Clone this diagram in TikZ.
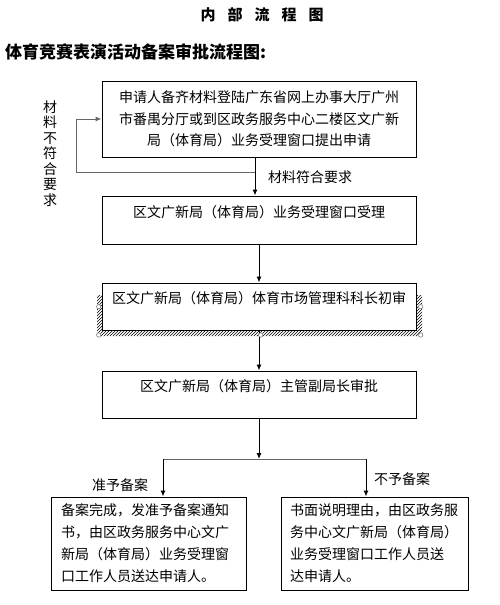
\documentclass[tikz,border=0pt]{standalone}
\usepackage{fontspec}
\setmainfont{Noto Sans CJK SC}
\usetikzlibrary{patterns,arrows.meta}
\tikzset{
  box/.style={draw, line width=1pt, fill=white, inner sep=0pt, minimum width=314pt, font=\fontsize{14}{21.5}\selectfont},
  toptext/.style={text height=12pt, text depth=18pt},
  flow/.style={line width=1pt, -{Latex[length=6pt,width=5pt]}},
  link/.style={line width=1pt, draw=gray!80!black},
  handle/.style={draw=gray, fill=white, line width=0.6pt},
  note/.style={font=\fontsize{14}{15.5}\selectfont, inner sep=0pt}
}
\begin{document}
\begin{tikzpicture}[x=1pt,y=-1pt]
\useasboundingbox (0,0) rectangle (499,605);

\node[font=\fontsize{15}{15}\selectfont\bfseries] (title) at (262,15) {内\hspace{12pt}部\hspace{12pt}流\hspace{12pt}程\hspace{12pt}图};
\node[font=\fontsize{17}{17}\selectfont\bfseries, anchor=west, inner sep=0pt] (heading) at (5,52) {体育竞赛表演活动备案审批流程图:};

\node[box, minimum height=76pt, align=center] (apply) at (259,119) {申请人备齐材料登陆广东省网上办事大厅广州\\市番禺分厅或到区政务服务中心二楼区文广新\\局（体育局）业务受理窗口提出申请};
\node[box, minimum height=48pt, toptext] (accept) at (259,220) {区文广新局（体育局）业务受理窗口受理};

\fill[pattern=north east lines] (97,295) rectangle (102,336) (416,295) rectangle (422,336) (97,330) rectangle (422,336);
\node[box, minimum height=47pt, toptext] (review) at (259,306.5) {区文广新局（体育局）体育市场管理科科长初审};
\node[box, minimum height=47pt, toptext] (approve) at (259,394.5) {区文广新局（体育局）主管副局长审批};

\node[box, minimum width=195pt, minimum height=93pt, text width=175pt, align=left, font=\fontsize{14}{22}\selectfont] (grant) at (148.5,543.5) {备案完成，发准予备案通知\\书，由区政务服务中心文广\\新局（体育局）业务受理窗\\口工作人员送达申请人。};
\node[box, minimum width=187pt, minimum height=93pt, text width=169pt, align=left, font=\fontsize{14}{22}\selectfont] (refuse) at (374.5,543.5) {书面说明理由，由区政务服\\务中心文广新局（体育局）\\业务受理窗口工作人员送\\达申请人。};

\coordinate (split) at (255,172);
\draw[flow] ([xshift=-4pt]apply.south) -- ([xshift=-4pt]accept.north);
\draw[link, -{Latex[length=6pt,width=5pt]}] (split) -| (76,119) -- (apply.west);
\node[note, anchor=west] (okay) at (268,177) {材料符合要求};
\node[note, align=center] (reject) at (50,153.5) {材\\料\\不\\符\\合\\要\\求};

\draw[flow] (accept) -- (review);
\draw[flow] (review) -- (approve);

\coordinate (branch) at (260,459);
\coordinate (left) at (163,459);
\coordinate (right) at (366,459);
\draw[flow] (approve.south) -- (approve.south |- branch);
\draw[link] (left) -- (right);
\draw[flow] (left) -- (left |- grant.north);
\draw[flow] (right) -- (right |- refuse.north);
\node[note] (yes) at (120,485) {准予备案};
\node[note] (no) at (402,479) {不予备案};

\foreach \p in {(98.7,306.7),(98.7,335),(420.7,306.7),(420.7,335),(260.7,335)}
  \draw[handle] \p circle (2.2pt);
\end{tikzpicture}
\end{document}
